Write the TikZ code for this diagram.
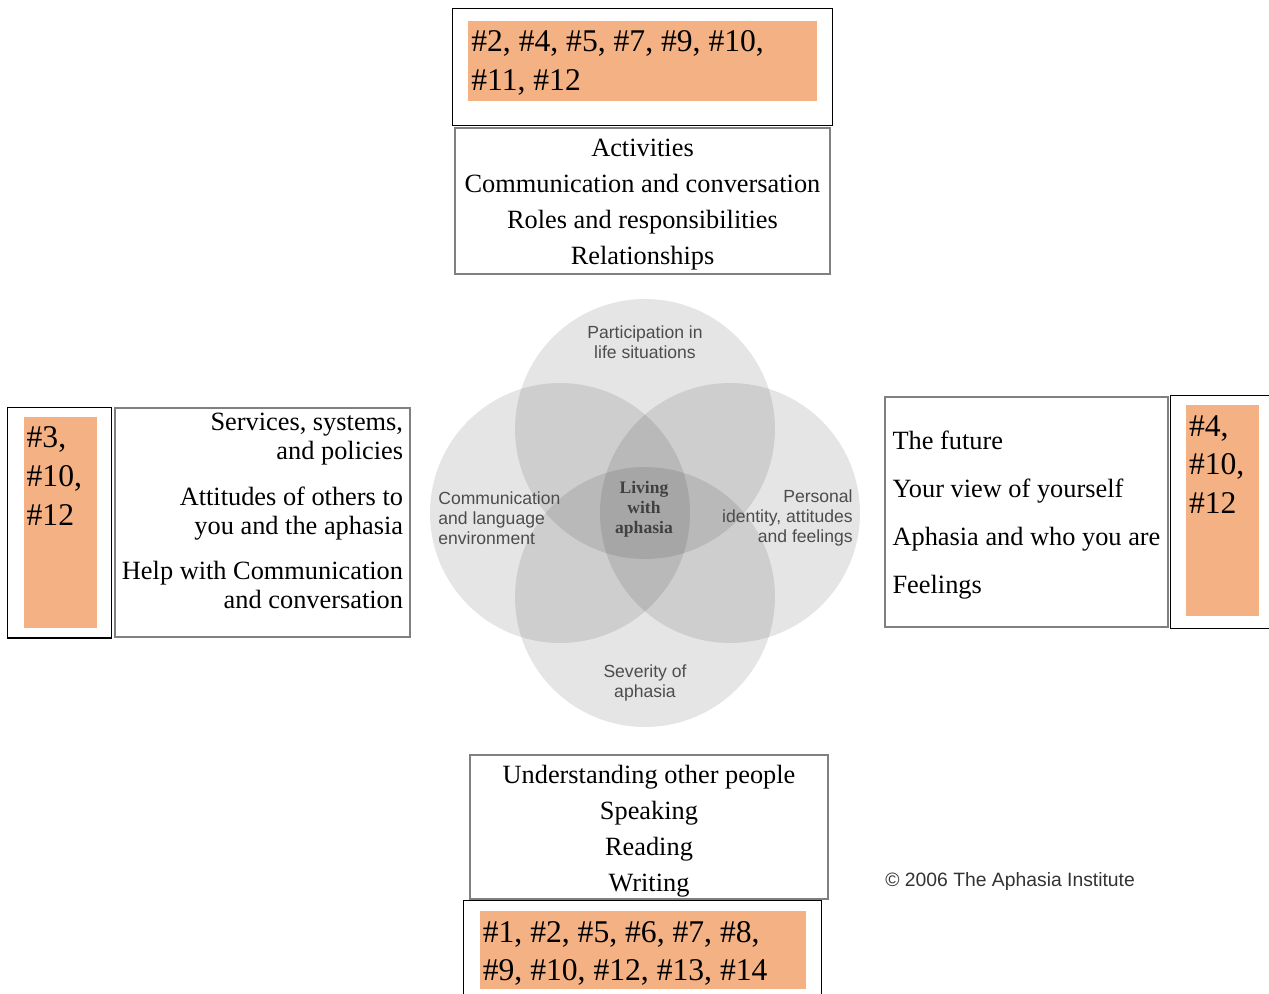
\documentclass[tikz,border=0pt]{standalone}
\usepackage{fontspec}
\setmainfont{Liberation Serif}
\setsansfont{Liberation Sans}
\usepackage{tikz}
\usetikzlibrary{positioning}
\definecolor{numorange}{HTML}{F4B183}

\begin{document}
\begin{tikzpicture}[x=0.02cm,y=-0.02cm,
      topic/.style={draw=black!50,line width=0.8pt,inner sep=2pt,font=\fontsize{15}{20.4}\selectfont},
      outerframe/.style={draw,line width=0.6pt,minimum width=2.08cm},
      numbox/.style={fill=numorange,inner xsep=0.06cm,inner ysep=0.2cm,font=\fontsize{18}{22}\selectfont},
      ring/.style={circle,fill=black,fill opacity=0.1,minimum size=5.2cm,inner sep=0},
      ringtext/.style={font=\sffamily\fontsize{10}{11.3}\selectfont,text=black!70,align=center,inner sep=0}]
      \useasboundingbox (0,0) rectangle (1269,994);
      % the four circles
      \node[ring] (part) at (645,429) {};
      \node[ring] (env)  at (560,513) {};
      \node[ring] (self) at (730,513) {};
      \node[ring] (sev)  at (645,597) {};
      \node[ringtext] (partlbl) at (645,342) {Participation in\\life situations};
      \node[ringtext,align=left,anchor=west] (envlbl) at (438,518) {Communication\\and language\\environment};
      \node[ringtext,align=right,anchor=east] (selflbl) at (853,518) {Personal\\identity, attitudes\\and feelings};
      \node[ringtext] (sevlbl) at (645,683) {Severity of\\aphasia};
      \node[ringtext,font=\rmfamily\bfseries\fontsize{10}{11.3}\selectfont,text=black!75] (centre) at (644,509) {Living\\with\\aphasia};
      % topic boxes
      \node[topic,minimum width=7.5cm,minimum height=2.92cm,align=center] (parttopics) at (642.5,201)
        {\rule{0pt}{14pt}Activities\\Communication and conversation\\Roles and responsibilities\\Relationships};
      \node[topic,minimum width=5.9cm,minimum height=4.58cm,align=right,font=\fontsize{15}{16.7}\selectfont] (envtopics) at (262.5,522.5)
        {Services, systems,\\and policies\\[9pt]Attitudes of others to\\you and the aphasia\\[9pt]Help with Communication\\and conversation\rule[-13pt]{0pt}{0pt}};
      \node[topic,minimum width=5.66cm,minimum height=4.6cm,align=left,font=\fontsize{15}{27.2}\selectfont] (selftopics) at (1026.5,512)
        {\rule{0pt}{14pt}The future\\Your view of yourself\\Aphasia and who you are\\Feelings};
      \node[topic,inner ysep=0pt,minimum width=7.16cm,minimum height=2.88cm,align=center] (sevtopics) at (649,827)
        {\rule{0pt}{15pt}Understanding other people\\Speaking\\Reading\\Writing};
      % number lists
      \node[outerframe,minimum width=7.6cm,minimum height=2.34cm,above=0.02cm of parttopics] (partframe) {};
      \node[numbox,below right=0.24cm and 0.32cm of partframe.north west] (partnums)
        {\parbox[c][1.2cm][t]{6.86cm}{\raggedright\#2, \#4, \#5, \#7, \#9, \#10,\\\#11, \#12}};
      \node[outerframe,minimum height=4.62cm,left=0.04cm of envtopics] (envframe) {};
      \node[numbox,below right=0.2cm and 0.32cm of envframe.north west] (envnums)
        {\parbox[c][3.82cm][t]{1.34cm}{\raggedright\#3,\\\#10,\\\#12}};
      \node[outerframe,minimum height=4.66cm,right=0.02cm of selftopics] (selfframe) {};
      \node[numbox,below right=0.2cm and 0.32cm of selfframe.north west] (selfnums)
        {\parbox[c][3.82cm][t]{1.34cm}{\raggedright\#4,\\\#10,\\\#12}};
      \node[outerframe,minimum width=7.18cm,minimum height=2.34cm,below=0pt of sevtopics,xshift=-0.13cm] (sevframe) {};
      \node[numbox,below right=0.22cm and 0.34cm of sevframe.north west] (sevnums)
        {\parbox[c][1.16cm][t]{6.4cm}{\raggedright\#1, \#2, \#5, \#6, \#7, \#8,\\\#9, \#10, \#12, \#13, \#14}};
      \node[font=\sffamily\fontsize{11}{13}\selectfont,text=black!80,anchor=west,inner sep=0] (copyright) at (885,881)
        {\textcopyright{} 2006 The Aphasia Institute};
    \end{tikzpicture}
\end{document}
